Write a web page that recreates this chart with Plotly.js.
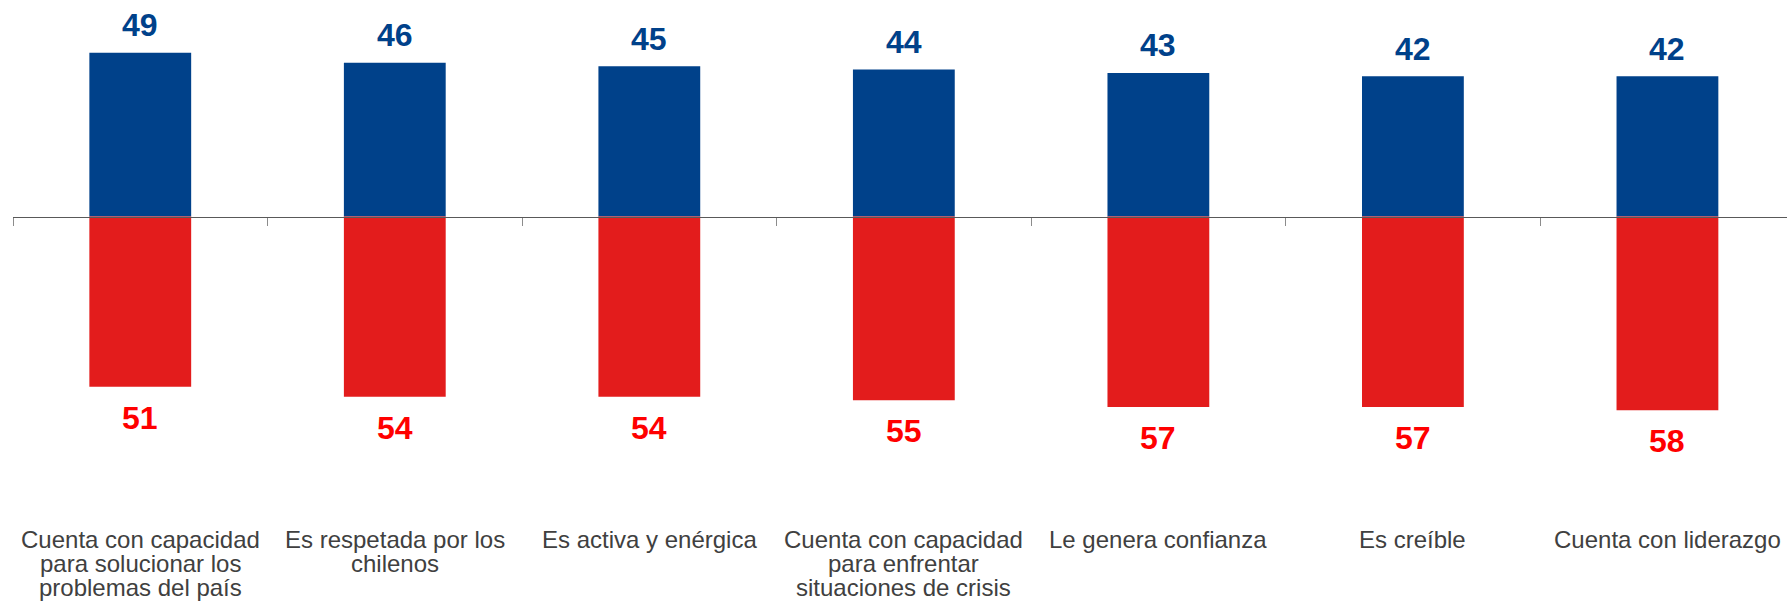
<!DOCTYPE html>
<html>
<head>
<meta charset="utf-8">
<script src="https://cdn.plot.ly/plotly-3.0.1.min.js"></script>
<style>
  html, body { margin: 0; padding: 0; background: #ffffff; }
  #chart { width: 1787px; height: 602px; }
</style>
</head>
<body>
<div id="chart"></div>
<script>
// ---- data ----
const categories = [
  "Cuenta con capacidad<br>para solucionar los<br>problemas del país",
  "Es respetada por los<br>chilenos",
  "Es activa y enérgica",
  "Cuenta con capacidad<br>para enfrentar<br>situaciones de crisis",
  "Le genera confianza",
  "Es creíble",
  "Cuenta con liderazgo"
];
const positiveValues = [49, 46, 45, 44, 43, 42, 42];
const negativeValues = [51, 54, 54, 55, 57, 57, 58];

// ---- styling ----
const W = 1787, H = 602;
const blueBar = "#00418A";
const redBar = "#E31C1C";
const blueText = "#00418A";
const redText = "#FF0000";
const catText = "#404040";
const fontFam = "'Liberation Sans', Arial, sans-serif";

const zeroPx = 216.5;          // pixel row of zero line
const pxPerUnit = 3.34;
const yTop = zeroPx / pxPerUnit;
const yBottom = -(H - zeroPx) / pxPerUnit;
const zeroFrac = (0 - yBottom) / (yTop - yBottom);

const leftMargin = 12.5;
const catWidthPx = 254.6;
const xMax = -0.5 + (W - leftMargin) / catWidthPx;

const xIdx = categories.map((c, i) => i);

const traces = [
  {
    type: "bar",
    x: xIdx,
    y: positiveValues,
    marker: { color: blueBar },
    hoverinfo: "skip"
  },
  {
    type: "bar",
    x: xIdx,
    y: negativeValues.map(v => -v),
    marker: { color: redBar },
    hoverinfo: "skip"
  }
];

const annotations = [];
positiveValues.forEach((v, i) => {
  annotations.push({
    x: i, y: v, xref: "x", yref: "y",
    text: String(v), showarrow: false,
    xanchor: "center", yanchor: "middle", yshift: 27.6,
    font: { family: fontFam, size: 32, color: blueText, weight: "bold" }
  });
});
negativeValues.forEach((v, i) => {
  annotations.push({
    x: i, y: -v, xref: "x", yref: "y",
    text: String(v), showarrow: false,
    xanchor: "center", yanchor: "middle", yshift: -30.7,
    font: { family: fontFam, size: 32, color: redText, weight: "bold" }
  });
});
// category labels, one annotation per line for tight line spacing
const firstLineCenterPx = 539;
const lineStepPx = 24.4;
categories.forEach((c, i) => {
  c.split("<br>").forEach((line, j) => {
    const py = firstLineCenterPx + j * lineStepPx;
    annotations.push({
      x: i, xref: "x",
      y: 1 - py / H, yref: "paper",
      text: line, showarrow: false,
      xanchor: "center", yanchor: "middle",
      font: { family: fontFam, size: 24, color: catText }
    });
  });
});

const layout = {
  width: W, height: H,
  margin: { l: leftMargin, r: 0, t: 0, b: 0, pad: 0 },
  paper_bgcolor: "#ffffff",
  plot_bgcolor: "#ffffff",
  showlegend: false,
  barmode: "relative",
  bargap: 0.6,
  xaxis: {
    type: "linear",
    range: [-0.5, xMax],
    anchor: "free",
    position: zeroFrac,
    showline: true,
    linecolor: "#595959",
    linewidth: 1.5,
    ticks: "outside",
    tickvals: [-0.5, 0.5, 1.5, 2.5, 3.5, 4.5, 5.5, 6.5],
    ticklen: 8,
    tickwidth: 1,
    tickcolor: "#8c8c8c",
    showticklabels: false,
    showgrid: false,
    zeroline: false,
    fixedrange: true
  },
  yaxis: {
    range: [yBottom, yTop],
    visible: false,
    showgrid: false,
    zeroline: false,
    fixedrange: true
  },
  annotations: annotations
};

Plotly.newPlot("chart", traces, layout, { displayModeBar: false, staticPlot: true });
</script>
</body>
</html>
